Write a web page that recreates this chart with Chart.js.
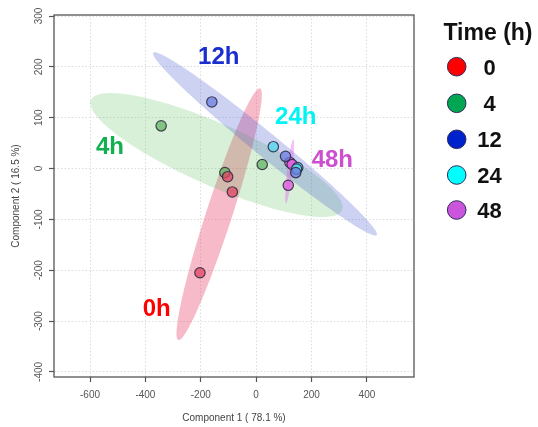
<!DOCTYPE html>
<html>
<head>
<meta charset="utf-8">
<script src="https://cdn.jsdelivr.net/npm/chart.js@4/dist/chart.umd.min.js"></script>
<style>
html,body{margin:0;padding:0;background:#fff;}
canvas{display:block;}
</style>
</head>
<body>
<canvas id="c" width="538" height="427" style="width:538px;height:427px"></canvas>
<script>
// ---- data ----
const timeGroups = ['0', '4', '12', '24', '48'];
const groupTags  = ['0h', '4h', '12h', '24h', '48h'];

const comp1_0h  = [-203, -86, -103];
const comp2_0h  = [-205, -46, -16];
const comp1_4h  = [-343, 22, -113];
const comp2_4h  = [84, 8, -8];
const comp1_12h = [-160, 106, 143];
const comp2_12h = [131, 24, -8];
const comp1_24h = [62, 150, 146];
const comp2_24h = [43, 2, -1];
const comp1_48h = [122, 130, 116];
const comp2_48h = [12, 8, -33];

const xTicks = [-600, -400, -200, 0, 200, 400];
const yTicks = [-400, -300, -200, -100, 0, 100, 200, 300];

// confidence ellipses (data units): centre and two conjugate semi-axis vectors
const ellipseGroups = ['0', '4', '12', '48'];
const ellipseCx = [-133.6, -143.3, 31.8, 120.8];
const ellipseCy = [-89.9, 26.5, 48.5, -5.5];
const ellipseAx = [147.5, 453.2, 403.4, 13.2];
const ellipseAy = [247.5, -108.4, -179.3, 62.9];
const ellipseBx = [44.6, 45.1, 27.4, 9.0];
const ellipseBy = [-7.9, 55.9, 18.3, -0.6];

// group tag anchors (data units)
const tagX = [-359, -528, -135, 143, 275];
const tagY = [-274, 45, 222, 105, 19];

// ---- styles ----
const FONT = "'Liberation Sans', Arial, Helvetica, sans-serif";
const legendColors = ['#ff0000', '#00a651', '#0022cc', '#00ffff', '#cc55dd'];
const tagColors    = ['#ff0000', '#12b04e', '#1a2ecf', '#00f4f4', '#cc4fd0'];
const pointFill    = ['rgba(225,70,100,0.75)', 'rgba(90,180,90,0.7)', 'rgba(110,125,225,0.75)',
                      'rgba(90,215,240,0.8)', 'rgba(225,95,225,0.8)'];
const ellipseFill  = ['rgba(232,64,104,0.36)', 'rgba(60,180,60,0.2)', 'rgba(70,90,210,0.27)', 'rgba(230,90,230,0.38)'];

const xs = [comp1_0h, comp1_4h, comp1_12h, comp1_24h, comp1_48h];
const ys = [comp2_0h, comp2_4h, comp2_12h, comp2_24h, comp2_48h];

const datasets = timeGroups.map((g, i) => ({
  label: g,
  data: xs[i].map((x, k) => ({x: x, y: ys[i][k]})),
  backgroundColor: pointFill[i],
  borderColor: 'rgba(40,40,60,0.85)',
  borderWidth: 1.2,
  pointRadius: 5.2,
  pointHoverRadius: 5.2
}));

const ellipsePlugin = {
  id: 'ellipses',
  beforeDatasetsDraw(chart) {
    const {ctx, chartArea: a, scales: {x, y}} = chart;
    ctx.save();
    ctx.beginPath();
    ctx.rect(a.left, a.top, a.right - a.left, a.bottom - a.top);
    ctx.clip();
    ellipseGroups.forEach((g, i) => {
      ctx.beginPath();
      const n = 180;
      for (let k = 0; k <= n; k++) {
        const t = 2 * Math.PI * k / n;
        const dx = ellipseCx[i] + Math.cos(t) * ellipseAx[i] + Math.sin(t) * ellipseBx[i];
        const dy = ellipseCy[i] + Math.cos(t) * ellipseAy[i] + Math.sin(t) * ellipseBy[i];
        const px = x.getPixelForValue(dx), py = y.getPixelForValue(dy);
        if (k === 0) ctx.moveTo(px, py); else ctx.lineTo(px, py);
      }
      ctx.closePath();
      ctx.fillStyle = ellipseFill[i];
      ctx.fill();
    });
    ctx.restore();
  },
  afterDatasetsDraw(chart) {
    const {ctx, chartArea: a, scales: {x, y}} = chart;
    ctx.save();
    ctx.font = 'bold 24px ' + FONT;
    ctx.textAlign = 'center';
    ctx.textBaseline = 'alphabetic';
    groupTags.forEach((t, i) => {
      ctx.fillStyle = tagColors[i];
      ctx.fillText(t, x.getPixelForValue(tagX[i]), y.getPixelForValue(tagY[i]) + 8.6);
    });
    // plot box
    ctx.strokeStyle = '#555';
    ctx.lineWidth = 1.3;
    ctx.strokeRect(a.left, a.top, a.right - a.left, a.bottom - a.top);
    ctx.restore();
  },
  afterDraw(chart) {
    const {ctx} = chart;
    ctx.save();
    ctx.fillStyle = '#111';
    ctx.textAlign = 'center';
    ctx.textBaseline = 'alphabetic';
    ctx.font = 'bold 23px ' + FONT;
    ctx.fillText('Time (h)', 488, 31.7 + 8.2);
    const rowY = [66.7, 103.3, 139.3, 175, 210];
    timeGroups.forEach((g, i) => {
      ctx.beginPath();
      ctx.arc(456.7, rowY[i], 9.3, 0, 2 * Math.PI);
      ctx.fillStyle = legendColors[i];
      ctx.fill();
      ctx.strokeStyle = '#2c2c5c';
      ctx.lineWidth = 1;
      ctx.stroke();
      ctx.fillStyle = '#111';
      ctx.font = 'bold 22px ' + FONT;
      ctx.fillText(g, 489.5, rowY[i] + 7.9);
    });
    ctx.restore();
  }
};

new Chart(document.getElementById('c'), {
  type: 'scatter',
  data: {datasets: datasets},
  plugins: [ellipsePlugin],
  options: {
    responsive: false,
    animation: false,
    devicePixelRatio: 1,
    events: [],
    layout: {padding: {top: 15, right: 124, left: 0, bottom: 0}},
    plugins: {legend: {display: false}, tooltip: {enabled: false}},
    scales: {
      x: {
        type: 'linear', position: 'bottom', min: -730, max: 570,
        afterBuildTicks: s => { s.ticks = xTicks.map(v => ({value: v})); },
        afterFit: s => { s.height = 50; },
        grid: {color: '#dcdcdc', lineWidth: 1, borderDash: [1.5, 2], tickLength: 5, tickColor: '#555', tickWidth: 1.2},
        border: {display: false, dash: [1.5, 2]},
        ticks: {color: '#555', font: {family: FONT, size: 10}, padding: 7, maxRotation: 0, minRotation: 0},
        title: {display: true, text: 'Component 1 ( 78.1 %)', color: '#444', font: {family: FONT, size: 10}, padding: {top: 0, bottom: 3}}
      },
      y: {
        type: 'linear', position: 'left', min: -410, max: 302,
        afterBuildTicks: s => { s.ticks = yTicks.map(v => ({value: v})); },
        afterFit: s => { s.width = 54; },
        grid: {color: '#dcdcdc', lineWidth: 1, borderDash: [1.5, 2], tickLength: 5, tickColor: '#555', tickWidth: 1.2},
        border: {display: false, dash: [1.5, 2]},
        ticks: {color: '#555', font: {family: FONT, size: 10}, padding: 0, minRotation: 90, maxRotation: 90, crossAlign: 'center'},
        title: {display: true, text: 'Component 2 ( 16.5 %)', color: '#444', font: {family: FONT, size: 10}, padding: {top: 10, bottom: 0}}
      }
    }
  }
});
</script>
</body>
</html>
